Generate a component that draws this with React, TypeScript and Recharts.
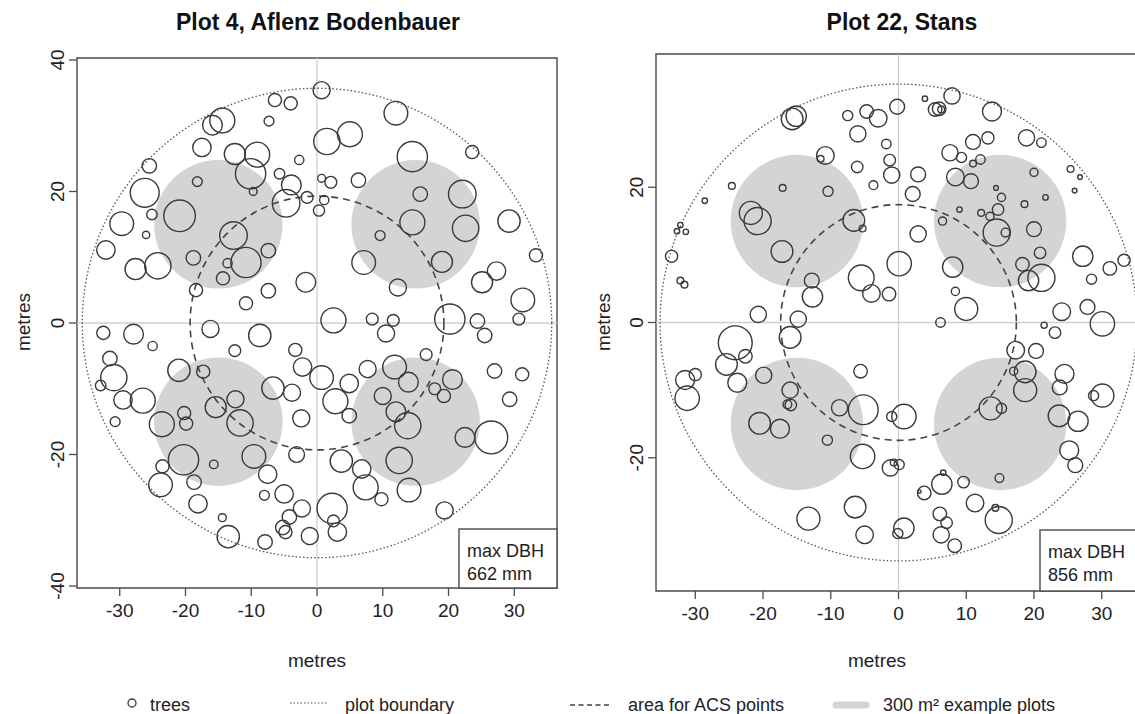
import React from 'react';
import { ScatterChart, Scatter, XAxis, YAxis, ReferenceLine, ReferenceArea } from 'recharts';

const FONT = '"Liberation Sans", Arial, Helvetica, sans-serif';

// ---------- shared ----------
const xTicks = [-30, -20, -10, 0, 10, 20, 30];
const yTicksPlot4 = [-40, -20, 0, 20, 40];
const yTicksPlot22 = [-20, 0, 20];
const exampleCentres: [number, number][] = [[-15, 15], [15, 15], [-15, -15], [15, -15]];
const EXAMPLE_R = 9.77; // 300 m² plots

// ---------- Plot 4, Aflenz Bodenbauer ----------
const boundaryRPlot4 = 35.7;
const acsRPlot4 = 19.3;
const treesPlot4: [number, number, number][] = [
  [-6.4, 33.9, 1.0], [-4.0, 33.4, 1.0], [-15.9, 30.1, 1.5], [-14.4, 30.8, 1.9], [-7.3, 30.7, 0.75],
  [-17.5, 26.7, 1.4], [-12.5, 25.7, 1.6], [-9.1, 25.6, 1.9], [-10.1, 22.7, 2.3], [-2.7, 24.8, 0.7],
  [-5.7, 22.7, 0.8], [-3.9, 21.0, 1.5], [-4.7, 18.2, 2.1], [-1.5, 19.1, 0.9], [-25.5, 23.9, 1.1],
  [-18.2, 21.5, 0.75], [-9.7, 20.0, 0.6], [-26.2, 19.8, 2.2], [-20.9, 16.3, 2.4], [-25.1, 16.5, 0.8],
  [-29.7, 15.1, 1.8], [-26.0, 13.4, 0.55], [-12.7, 13.3, 2.1], [-7.4, 11.0, 1.1], [-32.1, 11.1, 1.4],
  [-27.6, 8.2, 1.6], [-24.2, 8.7, 2.0], [-18.8, 9.9, 1.1], [-13.6, 9.1, 0.7], [-10.8, 9.2, 2.3],
  [-14.3, 6.8, 1.0], [-1.7, 6.2, 1.5], [-18.4, 5.0, 1.0], [-7.4, 4.9, 1.1], [-10.8, 3.0, 1.0],
  [0.7, 35.4, 1.3], [12.0, 31.9, 1.8], [1.5, 27.6, 2.0], [5.0, 28.7, 1.9], [23.6, 26.0, 1.0],
  [14.5, 25.3, 2.3], [0.7, 22.0, 0.6], [2.1, 21.4, 0.9], [6.3, 21.7, 1.1], [15.7, 19.6, 1.1],
  [22.1, 19.6, 2.1], [1.1, 18.7, 0.7], [0.3, 17.1, 0.85], [14.5, 15.3, 1.9], [22.6, 14.4, 2.0],
  [29.2, 15.5, 1.7], [9.6, 13.3, 0.75], [7.1, 9.2, 1.8], [19.0, 9.3, 1.6], [33.3, 10.3, 1.0],
  [27.3, 7.9, 1.4], [25.1, 6.2, 1.6], [12.3, 5.4, 1.3], [31.3, 3.5, 1.8], [2.5, 0.4, 1.9],
  [8.4, 0.6, 0.9], [11.6, 0.4, 0.9], [20.2, 0.6, 2.3], [24.4, 0.3, 1.1], [30.7, 0.6, 0.9],
  [10.5, -1.6, 1.3], [25.5, -1.9, 1.1], [16.6, -4.8, 0.9], [0.7, -8.3, 1.8], [7.7, -7.0, 1.3],
  [11.8, -6.7, 1.8], [13.9, -9.0, 1.5], [4.9, -9.2, 1.4], [20.6, -8.6, 1.5], [27.0, -7.3, 1.1],
  [31.2, -7.8, 1.0], [2.8, -11.9, 1.9], [10.0, -11.1, 1.3], [17.9, -10.0, 0.9], [19.3, -11.1, 1.0],
  [29.3, -11.6, 1.1], [4.9, -14.1, 1.1], [12.0, -13.5, 1.5], [13.8, -15.6, 2.0], [22.5, -17.4, 1.5],
  [26.5, -17.4, 2.5], [3.7, -21.0, 1.7], [6.8, -22.2, 1.4], [12.5, -20.9, 2.0], [7.4, -25.0, 1.9],
  [9.8, -26.8, 1.0], [14.0, -25.4, 1.8], [2.3, -28.2, 2.3], [2.5, -30.1, 0.9], [3.1, -31.8, 1.4],
  [19.4, -28.5, 1.3],
  [-32.5, -1.5, 1.0], [-27.9, -1.7, 1.5], [-25.0, -3.5, 0.7], [-16.2, -0.9, 1.3], [-8.7, -1.9, 1.7],
  [-12.5, -4.2, 0.9], [-3.3, -4.1, 1.0], [-31.5, -5.4, 1.1], [-30.9, -8.3, 2.0], [-32.9, -9.5, 0.8],
  [-21.0, -7.2, 1.7], [-17.3, -7.4, 1.0], [-2.2, -6.7, 1.4], [-29.5, -11.7, 1.4], [-26.5, -11.8, 1.9],
  [-6.7, -9.9, 1.7], [-3.8, -10.6, 1.3], [-30.7, -15.0, 0.75], [-23.6, -15.4, 1.9], [-20.2, -13.7, 1.0],
  [-19.9, -15.3, 1.0], [-15.4, -12.8, 1.6], [-12.4, -11.6, 1.3], [-11.7, -15.2, 2.0], [-2.4, -14.5, 1.3],
  [-20.3, -20.8, 2.3], [-15.7, -21.5, 0.65], [-9.6, -20.3, 1.8], [-3.1, -20.0, 1.2], [-23.5, -21.8, 1.0],
  [-23.8, -24.6, 1.8], [-18.7, -24.2, 1.1], [-7.5, -23.0, 1.4], [-8.0, -26.2, 0.75], [-5.0, -26.0, 1.4],
  [-18.1, -27.5, 1.4], [-2.3, -28.2, 1.3], [-4.2, -29.5, 1.1], [-5.2, -31.1, 1.1], [-4.8, -31.8, 1.0],
  [-14.4, -29.6, 0.6], [-13.5, -32.5, 1.7], [-7.9, -33.3, 1.1], [-1.1, -32.4, 1.3],
];

// ---------- Plot 22, Stans ----------
const boundaryRPlot22 = 35.2;
const acsRPlot22 = 17.4;
const treesPlot22: [number, number, number][] = [
  [-15.7, 30.1, 1.6], [-15.1, 30.5, 1.5], [-7.5, 30.6, 0.75], [-4.7, 31.2, 1.0], [-3.0, 30.2, 1.3],
  [-6.0, 27.9, 1.2], [-1.8, 26.4, 0.7], [-10.8, 24.7, 1.3], [-11.5, 24.2, 0.5], [-1.3, 24.0, 0.85],
  [-6.1, 23.0, 0.85], [-1.0, 21.8, 1.2], [-3.7, 20.3, 0.65], [-24.6, 20.2, 0.5], [-17.1, 19.9, 0.5],
  [-10.4, 19.4, 0.75], [-28.6, 18.0, 0.4], [-21.8, 16.2, 1.7], [-20.8, 15.0, 2.0], [-6.6, 15.1, 1.6],
  [-5.3, 13.9, 0.5], [-32.2, 14.4, 0.4], [-32.7, 13.5, 0.4], [-31.4, 13.4, 0.4], [-33.5, 9.8, 0.9],
  [-17.2, 10.5, 1.6], [-5.5, 6.6, 1.9], [-4.0, 4.3, 1.3], [-1.4, 4.2, 1.0], [-12.8, 6.2, 1.1],
  [-12.7, 3.8, 1.5], [-32.2, 6.2, 0.5], [-31.6, 5.6, 0.5], [-20.7, 1.2, 1.2], [-14.8, 0.5, 1.2],
  [-0.2, 31.9, 1.1], [3.9, 33.1, 0.4], [7.9, 33.5, 1.2], [5.4, 31.5, 1.0], [6.0, 31.6, 1.0],
  [6.3, 31.5, 0.5], [13.8, 31.2, 1.4], [11.0, 26.7, 1.1], [13.2, 27.3, 0.9], [18.9, 27.3, 1.2],
  [21.1, 26.6, 0.7], [7.6, 25.1, 1.2], [9.3, 24.4, 0.75], [11.0, 23.5, 0.5], [12.1, 24.1, 0.7],
  [2.9, 21.9, 1.1], [8.4, 21.5, 1.3], [10.7, 20.9, 1.1], [20.0, 22.2, 0.6], [25.4, 22.7, 0.5],
  [26.8, 21.5, 0.35], [26.0, 19.5, 0.35], [2.1, 19.0, 1.1], [14.4, 19.9, 0.35], [15.2, 18.5, 0.6],
  [18.6, 17.5, 0.5], [21.7, 18.5, 0.4], [9.0, 16.7, 0.4], [12.2, 16.2, 0.5], [13.5, 15.7, 0.6],
  [14.7, 16.7, 0.85], [6.5, 15.0, 0.6], [2.9, 13.1, 1.2], [14.5, 13.3, 2.0], [15.8, 13.3, 0.65],
  [20.0, 13.8, 1.1], [0.1, 8.7, 1.8], [20.9, 10.3, 0.85], [27.2, 9.8, 1.5], [33.3, 9.2, 0.9],
  [31.2, 8.0, 1.0], [28.5, 6.4, 0.75], [8.0, 8.2, 1.5], [18.3, 8.6, 1.0], [19.2, 6.2, 1.5],
  [21.1, 6.6, 2.0], [8.4, 4.6, 0.6], [10.0, 2.0, 1.7], [24.1, 1.6, 1.3], [27.9, 2.3, 1.1],
  [30.1, -0.2, 1.8], [6.2, 0.0, 0.7], [21.5, -0.4, 0.45],
  [-24.1, -3.0, 2.5], [-16.0, -2.2, 1.6], [-22.6, -5.0, 1.0], [-25.4, -6.2, 1.6], [-30.0, -7.7, 0.9],
  [-31.5, -8.5, 1.4], [-31.2, -11.2, 1.8], [-23.8, -8.9, 1.4], [-19.9, -7.8, 1.2], [-16.0, -10.0, 1.2],
  [-16.4, -12.1, 0.65], [-15.9, -12.2, 0.85], [-5.6, -7.2, 1.0], [-8.7, -12.6, 1.2], [-5.2, -12.9, 2.2],
  [-1.0, -13.9, 0.75], [-20.5, -14.9, 1.6], [-17.5, -15.7, 1.4], [-10.5, -17.4, 0.75], [-5.3, -19.8, 1.8],
  [-1.2, -21.5, 1.2], [-0.7, -20.7, 0.5], [-6.4, -27.3, 1.6], [-13.3, -29.0, 1.7], [-5.0, -31.4, 1.3],
  [23.1, -1.5, 0.85], [17.3, -4.1, 1.3], [20.3, -4.2, 1.1], [17.0, -7.2, 0.6], [18.7, -7.3, 1.6],
  [18.7, -10.0, 1.7], [24.5, -7.6, 1.4], [23.8, -9.6, 1.1], [30.1, -10.8, 1.7], [28.8, -10.8, 0.75],
  [0.8, -13.9, 1.8], [13.6, -12.7, 1.7], [15.2, -12.7, 0.75], [23.7, -13.8, 1.6], [26.5, -14.6, 1.5],
  [25.2, -18.9, 1.4], [26.1, -21.1, 1.1], [0.1, -21.0, 0.75], [6.4, -23.9, 1.5], [6.6, -22.2, 0.4],
  [9.6, -23.6, 0.85], [14.9, -23.0, 0.65], [3.8, -25.2, 1.0], [3.1, -25.0, 0.25], [11.3, -26.7, 1.3],
  [14.8, -29.2, 2.0], [14.3, -27.4, 0.5], [6.1, -28.3, 1.0], [7.1, -29.6, 0.85], [6.3, -31.4, 1.2],
  [0.8, -30.4, 1.5], [-0.1, -31.2, 0.75], [8.3, -33.0, 1.0],
];

type Pt = { x: number; y: number; r: number };
const toPts = (arr: [number, number, number][]): Pt[] => arr.map(([x, y, r]) => ({ x, y, r }));

const INK = '#3a3a3a';
const AXIS = '#4a4a4a';
const X_AXIS_H = 60;
const Y_AXIS_W = 40;
const TICK_LEN = 8;

interface PanelProps {
  left: number;
  width: number;
  height: number;
  plot: { top: number; left: number; w: number; h: number };
  xHalf: number;
  yHalf: number;
  yTicks: number[];
  trees: [number, number, number][];
  boundaryR: number;
  acsR: number;
}

function Panel(p: PanelProps) {
  const margin = {
    top: p.plot.top,
    left: p.plot.left - Y_AXIS_W,
    right: p.width - p.plot.left - p.plot.w,
    bottom: p.height - p.plot.top - p.plot.h - X_AXIS_H,
  };
  const px = p.plot.w / (2 * p.xHalf); // pixels per metre
  const circleShape = (style: any) => (props: any) => {
    const { cx, cy, payload } = props;
    if (cx == null || cy == null) return <g />;
    return <circle cx={cx} cy={cy} r={payload.r * px} {...style} />;
  };
  const examples = exampleCentres.map(([x, y]) => ({ x, y, r: EXAMPLE_R }));
  const boundary = [{ x: 0, y: 0, r: p.boundaryR }];
  const acs = [{ x: 0, y: 0, r: p.acsR }];
  const XTick = (t: any) => (
    <text x={t.x} y={t.y + 21} textAnchor="middle" fontSize={19} fontFamily={FONT} fill="#222">
      {t.payload.value}
    </text>
  );
  const YTick = (t: any) => {
    const cx = t.x - 12;
    return (
      <text x={cx} y={t.y} dy="0.36em" textAnchor="middle" fontSize={19} fontFamily={FONT} fill="#222"
        transform={`rotate(-90, ${cx}, ${t.y})`}>
        {t.payload.value}
      </text>
    );
  };
  return (
    <div style={{ position: 'absolute', left: p.left, top: 0, width: p.width, height: p.height }}>
      <ScatterChart width={p.width} height={p.height} margin={margin}>
        <XAxis type="number" dataKey="x" domain={[-p.xHalf, p.xHalf]} ticks={xTicks} allowDataOverflow
          height={X_AXIS_H} tickSize={TICK_LEN} tickMargin={0} axisLine={false} tickLine={{ stroke: AXIS, strokeWidth: 1.3 }}
          tick={XTick} interval={0} />
        <YAxis type="number" dataKey="y" domain={[-p.yHalf, p.yHalf]} ticks={p.yTicks} allowDataOverflow
          width={Y_AXIS_W} tickSize={TICK_LEN} tickMargin={0} axisLine={false} tickLine={{ stroke: AXIS, strokeWidth: 1.3 }}
          tick={YTick} interval={0} />
        <Scatter data={examples} isAnimationActive={false}
          shape={circleShape({ fill: '#d4d4d4', stroke: 'none' })} />
        <ReferenceLine x={0} stroke="#cfcfcf" strokeWidth={1.3} />
        <ReferenceLine y={0} stroke="#cfcfcf" strokeWidth={1.3} />
        <Scatter data={boundary} isAnimationActive={false}
          shape={circleShape({ fill: 'none', stroke: '#555', strokeWidth: 1.3, strokeDasharray: '1.5 2.2' })} />
        <Scatter data={acs} isAnimationActive={false}
          shape={circleShape({ fill: 'none', stroke: '#444', strokeWidth: 1.6, strokeDasharray: '7 5' })} />
        <Scatter data={toPts(p.trees)} isAnimationActive={false}
          shape={circleShape({ fill: 'none', stroke: INK, strokeWidth: 1.4 })} />
        <ReferenceArea x1={-p.xHalf} x2={p.xHalf} y1={-p.yHalf} y2={p.yHalf} fill="none" fillOpacity={0}
          stroke={AXIS} strokeWidth={1.4} ifOverflow="visible" />
      </ScatterChart>
    </div>
  );
}

export default function App() {
  return (
    <div style={{ position: 'absolute', left: 0, top: 0, width: 1135, height: 714, overflow: 'hidden', background: '#fff' }}>
      <Panel left={0} width={590} height={714} plot={{ top: 58, left: 77, w: 480, h: 530 }}
        xHalf={36.5} yHalf={40.3} yTicks={yTicksPlot4} trees={treesPlot4}
        boundaryR={boundaryRPlot4} acsR={acsRPlot4} />
      <Panel left={580} width={600} height={714} plot={{ top: 54, left: 76, w: 485, h: 537 }}
        xHalf={35.8} yHalf={39.7} yTicks={yTicksPlot22} trees={treesPlot22}
        boundaryR={boundaryRPlot22} acsR={acsRPlot22} />
      <svg width={1135} height={714} style={{ position: 'absolute', left: 0, top: 0, pointerEvents: 'none' }}
        fontFamily={FONT}>
        <text x={318} y={30} textAnchor="middle" fontSize={23} fontWeight="bold" fill="#111">Plot 4, Aflenz Bodenbauer</text>
        <text x={902} y={30} textAnchor="middle" fontSize={23} fontWeight="bold" fill="#111">Plot 22, Stans</text>
        <text x={317} y={667} textAnchor="middle" fontSize={19} fill="#222">metres</text>
        <text x={877} y={667} textAnchor="middle" fontSize={19} fill="#222">metres</text>
        <text x={23} y={322} dy="0.36em" textAnchor="middle" fontSize={19} fill="#222" transform="rotate(-90, 23, 322)">metres</text>
        <text x={603} y={322} dy="0.36em" textAnchor="middle" fontSize={19} fill="#222" transform="rotate(-90, 603, 322)">metres</text>
        {/* max DBH boxes */}
        <rect x={459} y={529} width={98} height={59} fill="#fff" stroke={AXIS} strokeWidth={1.4} />
        <text x={467} y={557} fontSize={18} fill="#222">max DBH</text>
        <text x={467} y={580} fontSize={18} fill="#222">662 mm</text>
        <rect x={1040} y={530} width={110} height={61} fill="#fff" stroke={AXIS} strokeWidth={1.4} />
        <text x={1048} y={558} fontSize={18} fill="#222">max DBH</text>
        <text x={1048} y={581} fontSize={18} fill="#222">856 mm</text>
        {/* legend */}
        <circle cx={132} cy={703} r={4} fill="none" stroke={INK} strokeWidth={1.3} />
        <text x={150} y={711} fontSize={18} fill="#222">trees</text>
        <line x1={290} y1={703} x2={327} y2={703} stroke="#555" strokeWidth={1.2} strokeDasharray="1.5 2" />
        <text x={345} y={711} fontSize={18} fill="#222">plot boundary</text>
        <line x1={570} y1={705} x2={611} y2={705} stroke="#444" strokeWidth={1.4} strokeDasharray="5 3.5" />
        <text x={628} y={711} fontSize={18} fill="#222">area for ACS points</text>
        <line x1={836} y1={705} x2={866} y2={705} stroke="#d4d4d4" strokeWidth={7} strokeLinecap="round" />
        <text x={883} y={711} fontSize={18} fill="#222">300 m² example plots</text>
      </svg>
    </div>
  );
}
